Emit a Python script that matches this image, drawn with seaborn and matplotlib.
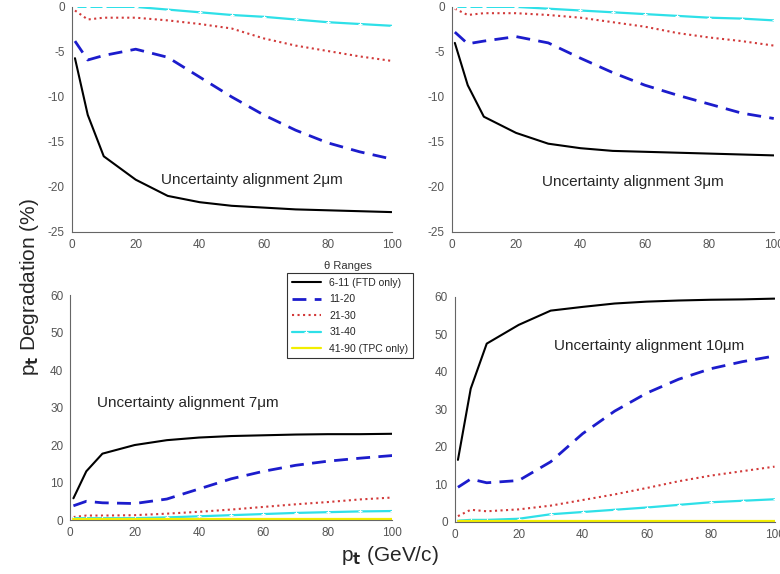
import matplotlib
matplotlib.use("Agg")
import matplotlib.pyplot as plt
import seaborn as sns
import pandas as pd

pt = [1, 5, 10, 20, 30, 40, 50, 60, 70, 80, 90, 100]

labels = ["6-11 (FTD only)", "11-20", "21-30", "31-40", "41-90 (TPC only)"]

# 2 um
a2_ftd = [-5.7, -12, -16.6, -19.2, -21, -21.7, -22.1, -22.3, -22.5, -22.6, -22.7, -22.8]
a2_1120 = [-3.8, -5.9, -5.4, -4.7, -5.6, -7.8, -10, -12, -13.7, -15.1, -16.1, -16.9]
a2_2130 = [-0.4, -1.4, -1.2, -1.2, -1.5, -1.9, -2.4, -3.5, -4.3, -4.9, -5.5, -6.0]
a2_3140 = [0, 0, 0, 0, -0.3, -0.6, -0.9, -1.1, -1.4, -1.7, -1.9, -2.1]

# 3 um
a3_ftd = [-4, -8.7, -12.2, -14, -15.2, -15.7, -16, -16.1, -16.2, -16.3, -16.4, -16.5]
a3_1120 = [-2.8, -4.1, -3.8, -3.3, -4, -5.7, -7.3, -8.7, -9.8, -10.8, -11.8, -12.4]
a3_2130 = [-0.2, -0.9, -0.7, -0.7, -0.9, -1.2, -1.7, -2.2, -2.9, -3.4, -3.8, -4.3]
a3_3140 = [0, 0, 0, 0, -0.2, -0.4, -0.6, -0.8, -1.0, -1.2, -1.3, -1.5]

# 7 um
a7_ftd = [5.8, 13, 17.7, 20, 21.3, 22, 22.4, 22.6, 22.8, 22.9, 22.9, 23]
a7_1120 = [3.8, 5, 4.6, 4.4, 5.6, 8.3, 11, 13, 14.6, 15.7, 16.5, 17.2]
a7_2130 = [0.8, 1.2, 1.2, 1.3, 1.7, 2.2, 2.8, 3.5, 4.2, 4.8, 5.5, 6.0]
a7_3140 = [0.5, 0.5, 0.5, 0.5, 0.7, 1.0, 1.3, 1.6, 1.9, 2.1, 2.3, 2.4]
a7_4190 = [0.2, 0.2, 0.2, 0.2, 0.2, 0.2, 0.2, 0.2, 0.2, 0.2, 0.2, 0.2]

# 10 um
a10_ftd = [16.5, 35.5, 47.5, 52.5, 56.3, 57.3, 58.2, 58.7, 59, 59.2, 59.3, 59.5]
a10_1120 = [9.2, 11.4, 10.4, 11, 16, 23.5, 29.5, 34.3, 38, 40.8, 42.7, 44.2]
a10_2130 = [1.5, 3.2, 2.8, 3.3, 4.3, 5.8, 7.3, 9, 10.8, 12.3, 13.5, 14.7]
a10_3140 = [0.3, 0.5, 0.5, 0.8, 2.0, 2.6, 3.2, 3.8, 4.5, 5.2, 5.6, 6.0]
a10_4190 = [0.2, 0.2, 0.2, 0.2, 0.2, 0.2, 0.2, 0.2, 0.2, 0.2, 0.2, 0.2]

styles = {
    "6-11 (FTD only)": dict(color="black", linestyle="-", lw=1.5),
    "11-20": dict(color="#1c1ccc", linestyle=(0, (5, 3)), lw=2),
    "21-30": dict(color="#d23a3a", linestyle=":", lw=1.5),
    "31-40": dict(color="#2ee0e8", linestyle="-", lw=1.6, marker="+", markersize=3),
    "41-90 (TPC only)": dict(color="#f2ee00", linestyle="-", lw=1.6),
}

sns.set_style("white")
plt.rcParams["font.family"] = ["Liberation Sans", "DejaVu Sans"]
plt.rcParams["axes.unicode_minus"] = False

fig = plt.figure(figsize=(7.8, 5.74), dpi=100)
ax_tl = fig.add_axes([0.092, 0.596, 0.41, 0.392])
ax_tr = fig.add_axes([0.579, 0.596, 0.413, 0.392])
ax_bl = fig.add_axes([0.090, 0.094, 0.413, 0.392])
ax_br = fig.add_axes([0.583, 0.091, 0.41, 0.392])

panels = [
    (ax_tl, [a2_ftd, a2_1120, a2_2130, a2_3140], "Uncertainty alignment 2\u03bcm", (0.28, 0.23), (-25, 0)),
    (ax_tr, [a3_ftd, a3_1120, a3_2130, a3_3140], "Uncertainty alignment 3\u03bcm", (0.28, 0.22), (-25, 0)),
    (ax_bl, [a7_ftd, a7_1120, a7_2130, a7_3140, a7_4190], "Uncertainty alignment 7\u03bcm", (0.084, 0.52), (0, 60)),
    (ax_br, [a10_ftd, a10_1120, a10_2130, a10_3140, a10_4190], "Uncertainty alignment 10\u03bcm", (0.31, 0.78), (0, 60)),
]

for ax, series, title, pos, ylim in panels:
    for lab, vals in zip(labels, series):
        sns.lineplot(x=pt, y=vals, ax=ax, label=lab, **styles[lab])
    ax.set_xlim(0, 100)
    ax.set_ylim(*ylim)
    ax.set_xticks([0, 20, 40, 60, 80, 100])
    if ylim[0] < 0:
        ax.set_yticks(range(-25, 1, 5))
    else:
        ax.set_yticks(range(0, 61, 10))
    ax.tick_params(direction="in", length=3, labelsize=8.5, colors="#555555", pad=5)
    for s in ["top", "right"]:
        ax.spines[s].set_visible(False)
    for s in ["left", "bottom"]:
        ax.spines[s].set_color("#666666")
    ax.text(pos[0], pos[1], title, transform=ax.transAxes, fontsize=11, va="center")
    ax.set_xlabel("")
    ax.set_ylabel("")
    ax.get_legend().remove()

handles, labs = ax_bl.get_legend_handles_labels()
leg = fig.legend(handles, labs, loc="upper left", bbox_to_anchor=(0.368, 0.524),
                 borderaxespad=0, fontsize=7.5, frameon=True, fancybox=False,
                 edgecolor="black", handlelength=2.8, labelspacing=0.62, borderpad=0.45)
leg.get_frame().set_linewidth(0.8)
fig.text(0.446, 0.537, "\u03b8 Ranges", fontsize=8, ha="center", va="center", color="#333333")

fig.text(0.038, 0.50, r"p$_\mathbf{t}$ Degradation (%)", rotation=90, fontsize=15,
         ha="center", va="center")
fig.text(0.50, 0.032, r"p$_\mathbf{t}$ (GeV/c)", fontsize=15, ha="center", va="center")

fig.savefig("out.png", dpi=100)
